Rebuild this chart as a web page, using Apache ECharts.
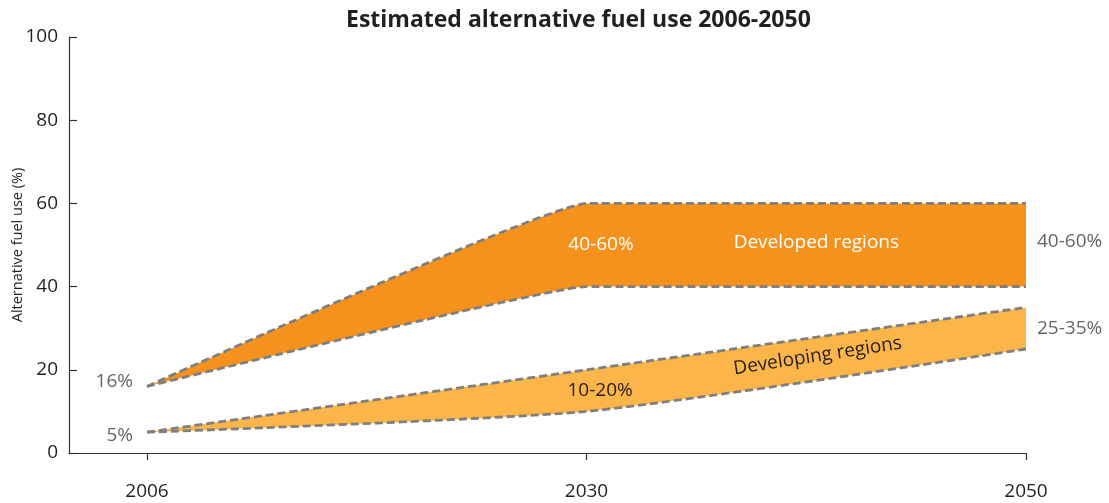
<!DOCTYPE html>
<html>
<head>
<meta charset="utf-8">
<script src="https://cdn.jsdelivr.net/npm/echarts@6/dist/echarts.min.js"></script>
<style>
  html, body { margin: 0; padding: 0; background: #fff; }
  #chart { width: 1109px; height: 503px; }
</style>
</head>
<body>
<div id="chart"></div>
<script>
// x positions are category slots: 0 = 2006, 1 = 2030, 2 = 2050
const years = ['2006', '2030', '2050']
const slots = [0, 1, 2]

const developedLow = [16, 40, 40]
const developedHigh = [16, 60, 60]
const developingLow = [5, 10, 25]
const developingHigh = [5, 20, 35]

const regionNames = ['Developed regions', 'Developing regions']

const ORANGE = '#f5921e'
const LIGHT = '#fbb549'
const DASH = '#7f7f80'
const GREY_TEXT = '#646567'
const DARK = '#231f20'
const FONT = '"Open Sans", "Noto Sans", sans-serif'

const SMOOTH_DEV = 0.08
const SMOOTH_ING = 0.2

const pts = arr => arr.map((v, i) => [slots[i], v])
const mid = (hi, lo, i) => (hi[i] + lo[i]) / 2

// band = area under the upper edge, then the area under the lower edge masked in white
// (the developing band sits fully under the developed lower edge, so order does the job)
function fill(arr, color, smooth) {
  return {
    type: 'line', data: pts(arr), smooth, symbol: 'none', silent: true,
    lineStyle: { opacity: 0 },
    areaStyle: { color, opacity: 1, origin: 'start' }
  }
}

function dashed(arr, smooth) {
  return {
    type: 'line', data: pts(arr), smooth, symbol: 'none', z: 4, silent: true,
    lineStyle: { color: DASH, width: 2.8, type: [8, 4] }
  }
}

function notes(items, label) {
  return {
    type: 'scatter', symbolSize: 0, z: 6, silent: true,
    itemStyle: { opacity: 1 },
    data: items.map(d => ({
      value: [d.x, d.y],
      label: Object.assign({ formatter: d.text }, d.label || {})
    })),
    label: Object.assign({
      show: true, fontFamily: FONT, fontSize: 19
    }, label)
  }
}

const range = (lo, hi, i) => `${lo[i]}-${hi[i]}%`

const chart = echarts.init(document.getElementById('chart'))

chart.setOption({
  animation: false,
  title: {
    text: 'Estimated alternative fuel use 2006-2050',
    left: 341,
    top: 4,
    textStyle: { fontFamily: FONT, fontWeight: 'bold', fontSize: 23, color: DARK }
  },
  grid: { left: 69, right: 83, top: 37, bottom: 50, outerBoundsMode: 'none' },
  xAxis: {
    type: 'value',
    min: -0.17747,  // puts 2006 on a whole pixel so the white mask leaves no seam
    max: 2,
    z: 5,
    splitLine: { show: false },
    axisLine: { show: true, lineStyle: { color: '#333', width: 1.2 } },
    axisTick: { show: true, customValues: slots, length: 7, lineStyle: { color: '#333', width: 1.2 } },
    axisLabel: {
      customValues: slots,
      formatter: v => years[Math.round(v)],
      margin: 29,
      fontFamily: FONT, fontSize: 19, color: DARK
    }
  },
  yAxis: {
    type: 'value',
    min: 0,
    max: 100,
    interval: 20,
    z: 5,
    name: 'Alternative fuel use (%)',
    nameLocation: 'middle',
    nameGap: 44,
    nameMoveOverlap: false,
    nameTextStyle: { fontFamily: FONT, fontSize: 14.5, color: DARK },
    splitLine: { show: false },
    axisLine: { show: true, onZero: false, lineStyle: { color: '#333', width: 1.2 } },
    axisTick: { show: true, inside: true, length: 8, lineStyle: { color: '#333', width: 1.2 } },
    axisLabel: { margin: 11, fontFamily: FONT, fontSize: 19, color: DARK }
  },
  series: [
    fill(developedHigh, ORANGE, SMOOTH_DEV),
    fill(developedLow, '#fff', SMOOTH_DEV),
    fill(developingHigh, LIGHT, SMOOTH_ING),
    fill(developingLow, '#fff', SMOOTH_ING),
    dashed(developedHigh, SMOOTH_DEV),
    dashed(developedLow, SMOOTH_DEV),
    dashed(developingHigh, SMOOTH_ING),
    dashed(developingLow, SMOOTH_ING),
    // starting shares, left of 2006
    notes([
      { x: 0, y: developedLow[0], text: developedLow[0] + '%', label: { offset: [0, -5] } },
      { x: 0, y: developingLow[0], text: developingLow[0] + '%', label: { offset: [0, 3] } }
    ], { position: 'left', distance: 14, color: GREY_TEXT }),
    // 2050 ranges, right of the bands
    notes([
      { x: 2, y: mid(developedHigh, developedLow, 2), text: range(developedLow, developedHigh, 2), label: { offset: [0, -3] } },
      { x: 2, y: mid(developingHigh, developingLow, 2), text: range(developingLow, developingHigh, 2) }
    ], { position: 'right', distance: 11, color: GREY_TEXT }),
    // 2030 ranges inside the bands
    notes([
      { x: 1.033, y: mid(developedHigh, developedLow, 1), text: range(developedLow, developedHigh, 1), label: { color: '#fff' } },
      { x: 1.031, y: mid(developingHigh, developingLow, 1), text: range(developingLow, developingHigh, 1), label: { color: DARK } }
    ], { position: 'inside' }),
    // region names
    notes([
      { x: 1.523, y: 50.5, text: regionNames[0], label: { color: '#fff' } },
      { x: 1.526, y: 23.3, text: regionNames[1], label: { color: DARK, rotate: 8.8 } }
    ], { position: 'inside' })
  ]
})
</script>
</body>
</html>
